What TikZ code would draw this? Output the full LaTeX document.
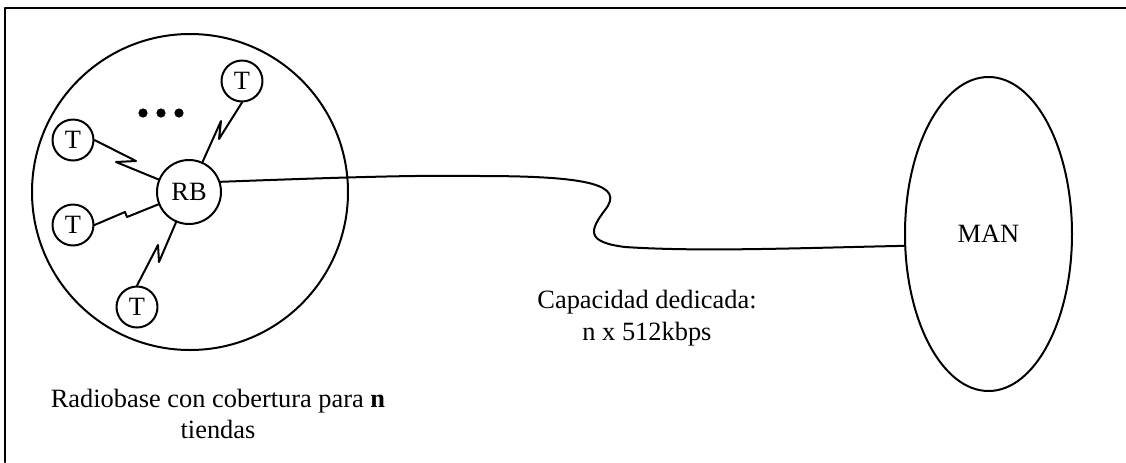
\documentclass[tikz,border=0pt]{standalone}
\usepackage{fontspec}
\setmainfont{Liberation Serif}
\usetikzlibrary{shapes.geometric}
\begin{document}
\begin{tikzpicture}[line cap=round,line join=round,x=0.5pt,y=-0.5pt,line width=1pt,
  font=\fontsize{13.2pt}{15.8pt}\selectfont,
  tienda/.style={circle,draw,inner sep=0pt,minimum size=20.5pt}]
\useasboundingbox (0,0) rectangle (1126,462);
\draw [line width=1.3pt] (5,462)--(5,8)--(1126,8);
\node [circle,draw,minimum size=158pt] (cell) at (190,192) {};
\node [circle,draw,inner sep=0pt,minimum size=32pt] (rb) at (189,192) {RB};
\node [tienda] (t1) at (73,140) {T};
\node [tienda] (t2) at (73,225) {T};
\node [tienda] (t3) at (242,81) {T};
\node [tienda] (t4) at (137,307) {T};
\foreach \x in {143,161,179} \fill (\x,113) circle [radius=2.3pt];
\draw (t1.east)--(136,161)--(116,162)--(rb);
\draw (t2.east)--(125,212)--(127,217)--(rb);
\draw (t3.south)--(219,139)--(221,121)--(rb);
\draw (t4.north)--(158,245)--(159,262)--(rb);
\node [ellipse,draw,inner sep=0pt,minimum width=83.5pt,minimum height=157pt] (man) at (988.5,234) {MAN};
\draw (rb.18) .. controls (350,177) and (420,175) .. (480,176) .. controls (590,176) and (625,185) .. (605,210) .. controls (590,230) and (585,242) .. (625,247) .. controls (700,252) and (800,248) .. (man.188);
\node [align=center] (cap) at (647,318) {Capacidad dedicada:\\n x 512kbps};
\node [align=center] (radio) at (218,414) {Radiobase con cobertura para \textbf{n}\\tiendas};
\end{tikzpicture}
\end{document}
